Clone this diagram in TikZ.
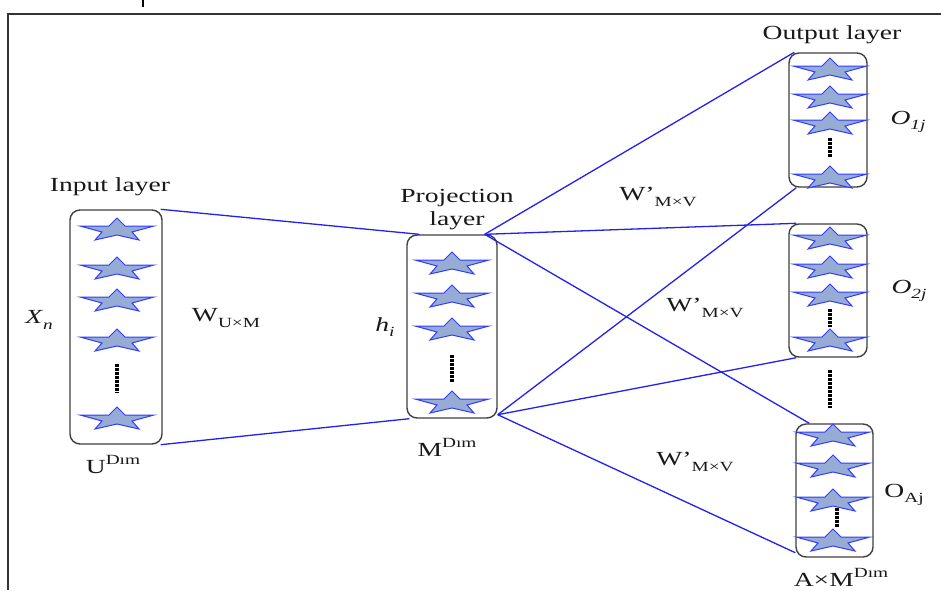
\documentclass[tikz,border=0pt]{standalone}
\usepackage{fontspec}
\setmainfont[FakeStretch=1.38]{Liberation Serif}
\definecolor{linkblue}{RGB}{34,34,238}
\definecolor{starblue}{RGB}{50,60,255}
\definecolor{starfill}{RGB}{150,172,212}
\newcommand\lsub[1]{\raisebox{-0.28em}{\fontsize{14}{14}\selectfont #1}}
\newcommand\lsup[1]{\raisebox{0.45em}{\fontsize{14}{14}\selectfont #1}}
\begin{document}
\begin{tikzpicture}[x=1pt,y=-1pt,
  box/.style={draw=black!75, line width=1.4pt, rounded corners=10pt, inner sep=0pt},
  conn/.style={draw=linkblue, line width=1.3pt},
  lbl/.style={inner sep=0pt, font=\fontsize{20}{23}\selectfont, text=black!90, align=center},
  vdots/.style={draw=black, line width=3.5pt, dash pattern=on 2.5pt off 1.5pt},
  bstar/.pic={\filldraw[fill=starfill, draw=starblue, line width=1pt, line join=miter]
     (-37,0) -- (-8,0) -- (0,-8) -- (8,0) -- (37,0) -- (15,6) -- (22,14) -- (0,9)
     -- (-22,14) -- (-15,6) -- cycle;}
]
\useasboundingbox (0,0) rectangle (941,590);
\fill[white] (0,0) rectangle (941,590);
% frame
\draw[black!80, line width=2pt] (941,14) -- (8,14) -- (8,590);
\draw[black, line width=1.5pt] (143,0) -- (143,7);

% boxes
\node[box, minimum width=92pt, minimum height=234pt] (in) at (116,327) {};
\node[box, minimum width=90pt, minimum height=183pt] (proj) at (452,326.5) {};
\node[box, minimum width=78pt, minimum height=134pt] (o1) at (828,120) {};
\node[box, minimum width=78pt, minimum height=133pt] (o2) at (828,290.5) {};
\node[box, minimum width=77pt, minimum height=133pt] (o3) at (834.5,490.5) {};

% stars
\foreach \y in {226,265,297,337,415} \pic at (117,\y) {bstar};
\foreach \y in {260,293,326,399} \pic at (452,\y) {bstar};
\foreach \y in {66,94,120,174} \pic at (830,\y) {bstar};
\foreach \y in {235,264,292,337} \pic at (830,\y) {bstar};
\foreach \y in {432,463,497,537} \pic at (833,\y) {bstar};

% dots
\draw[vdots] (117,364) -- (117,393);
\draw[vdots] (452,355) -- (452,383);
\draw[vdots] (830,138) -- (830,157);
\draw[vdots] (830,309) -- (830,327);
\draw[vdots] (830,370) -- (830,408);
\draw[vdots] (837,508) -- (837,527);

% connectors
\draw[conn] ([xshift=-2pt]in.north east) -- ([xshift=13pt]proj.north west);
\draw[conn] ([xshift=-2pt]in.south east) -- ([xshift=3pt]proj.south west);
\coordinate (pt) at ([xshift=-13pt]proj.north east);
\coordinate (pb) at ([yshift=4pt]proj.south east);
\draw[conn] (pt) -- ([xshift=6pt]o1.north west);
\draw[conn] (pt) -- ([xshift=8pt]o2.north west);
\draw[conn] (pt) -- ([xshift=14pt]o3.north west);
\draw[conn] (pb) -- ([xshift=8pt]o1.south west);
\draw[conn] (pb) -- ([xshift=8pt]o2.south west);
\draw[conn] (pb) -- ([yshift=5pt]o3.south west);

% labels
\node[lbl] (tin) at (110,187) {Input layer};
\node[lbl] (tproj) at (457,210) {Projection\\layer};
\node[lbl] (tout) at (832,35) {Output layer};
\node[lbl] (xn) at (39,320) {\textit{X}\lsub{\textit{n}}};
\node[lbl] (wum) at (226,318) {W\lsub{U×M}};
\node[lbl] (hi) at (385,327) {\textit{h}\lsub{\textit{i}}};
\node[lbl] (ud) at (113,465) {U\lsup{Dım}};
\node[lbl] (md) at (447,447) {M\lsup{Dım}};
\node[lbl] (w1) at (658,197) {W’\lsub{M×V}};
\node[lbl] (w2) at (705,308) {W’\lsub{M×V}};
\node[lbl] (w3) at (695,462) {W’\lsub{M×V}};
\node[lbl] (o1l) at (908,122) {\textit{O}\lsub{\textit{1j}}};
\node[lbl] (o2l) at (909,291) {\textit{O}\lsub{\textit{2j}}};
\node[lbl] (oal) at (904,495) {O\lsub{Aj}};
\node[lbl] (amd) at (841,577) {A×M\lsup{Dım}};
\end{tikzpicture}
\end{document}
